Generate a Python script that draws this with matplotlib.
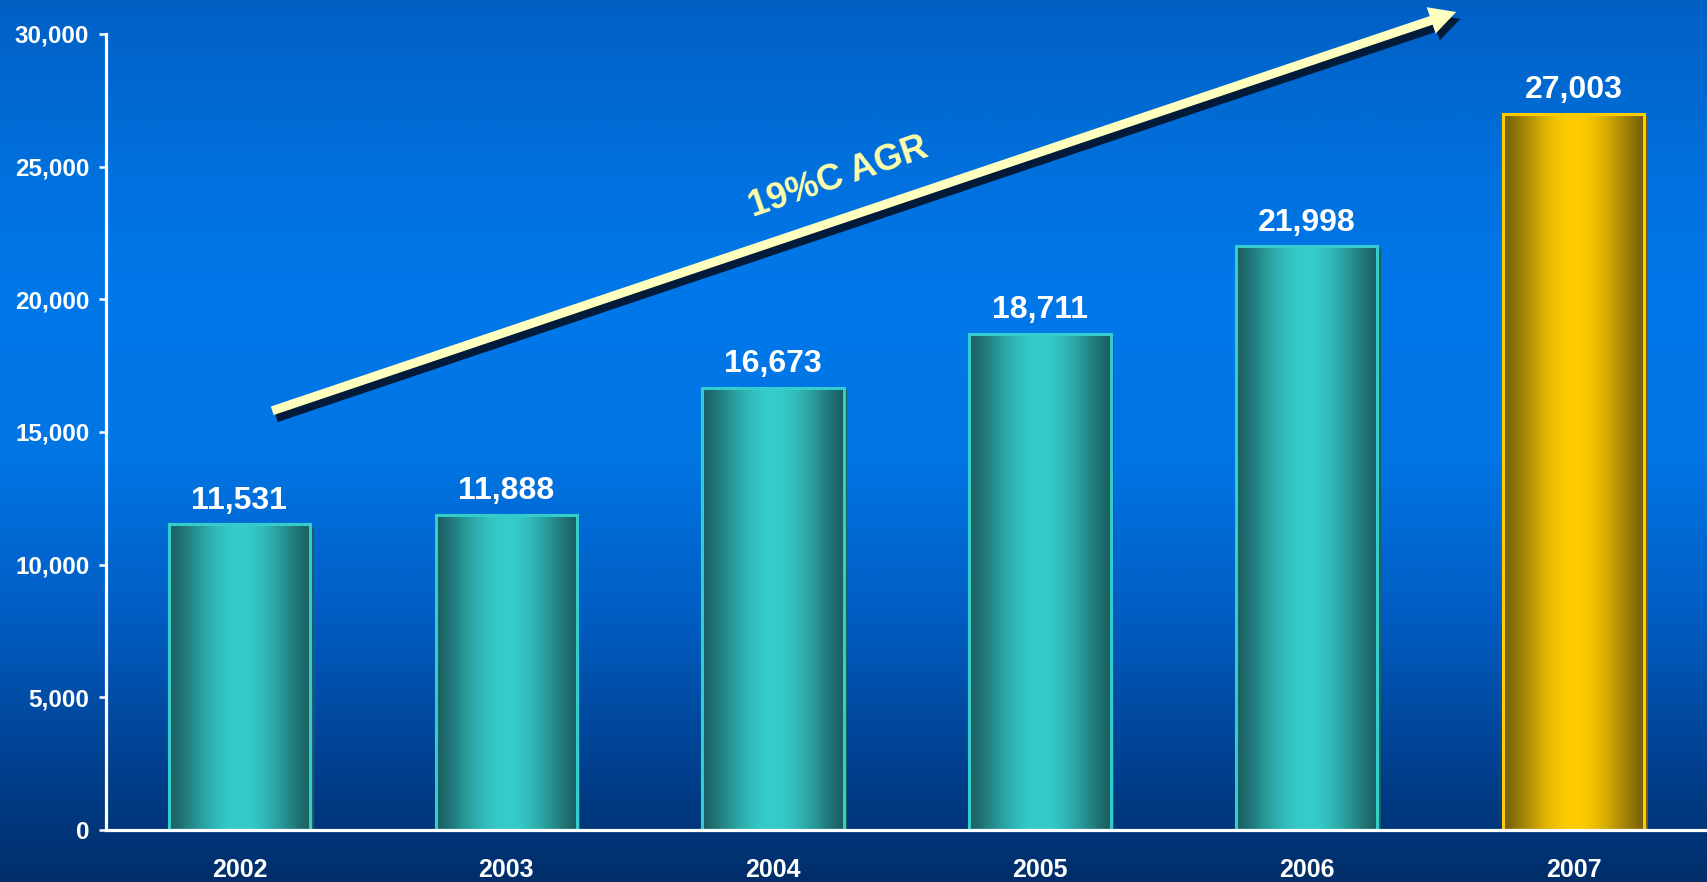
import numpy as np
import matplotlib
matplotlib.use("Agg")
import matplotlib.pyplot as plt
import matplotlib.patheffects as pe
from matplotlib.colors import LinearSegmentedColormap, to_rgb
from matplotlib.ticker import FuncFormatter, MultipleLocator

plt.rcParams['font.family'] = ['Liberation Sans', 'DejaVu Sans']

# ---- data -----------------------------------------------------------------
years = ["2002", "2003", "2004", "2005", "2006", "2007"]
values = [11531, 11888, 16673, 18711, 21998, 27003]
highlight = [False, False, False, False, False, True]
cagr_label = "19%C AGR"
trend_start = (0.123, 15800)   # (category position, value)
trend_end = (4.56, 30830)

# ---- styling --------------------------------------------------------------
W, H, DPI = 1707, 882, 100
teal_dark, teal_light, teal_edge = "#1b5f60", "#35cccb", "#35cccc"
gold_dark, gold_light, gold_edge = "#75600a", "#ffcc00", "#ffcc00"
text_white = "#ffffff"
cagr_color = "#ffffaa"
shadow_color = "#031b3b"

fig = plt.figure(figsize=(W / DPI, H / DPI), dpi=DPI)

# vertical background gradient over the whole figure
bg = fig.add_axes([0, 0, 1, 1], zorder=-10)
stops = [(0.00, "#0060c4"), (0.20, "#0071de"), (0.33, "#0078ea"),
         (0.52, "#0075e4"), (0.70, "#005dc2"), (0.86, "#004292"),
         (0.94, "#00367a"), (1.00, "#002e6a")]
bg_cmap = LinearSegmentedColormap.from_list("bg", stops)
bg.imshow(np.linspace(0, 1, 512).reshape(-1, 1), cmap=bg_cmap, aspect="auto",
          extent=[0, 1, 1, 0])
bg.set_axis_off()

ax = fig.add_axes([106 / W, 52 / H, 1 - 106 / W, (830 - 34) / H])
ax.set_facecolor("none")

x = np.arange(len(years))
bar_w = 0.53
dark = [gold_dark if h else teal_dark for h in highlight]
light = [gold_light if h else teal_light for h in highlight]
edge = [gold_edge if h else teal_edge for h in highlight]

# base bars carry the drop shadow
bars = ax.bar(x, values, width=bar_w, color=dark, linewidth=0, zorder=2)
for b, d in zip(bars, dark):
    b.set_path_effects([pe.SimplePatchShadow(offset=(2.5, -2.0),
                                             shadow_rgbFace=d, alpha=1.0),
                        pe.Normal()])

# cylindrical horizontal shading clipped to each bar
u = np.linspace(0, 1, 256)
prof = np.sin(np.pi * u) ** 1.3
for b, d, l in zip(bars, dark, light):
    cd, cl = np.array(to_rgb(d)), np.array(to_rgb(l))
    img = cd[None, :] + (cl - cd)[None, :] * prof[:, None]
    img = img[None, :, :]
    x0, w, h = b.get_x(), b.get_width(), b.get_height()
    im = ax.imshow(img, extent=[x0, x0 + w, 0, h], aspect="auto",
                   interpolation="bilinear", zorder=3)
    im.set_clip_path(b)

# outlines
ax.bar(x, values, width=bar_w, fill=False, edgecolor=edge, linewidth=2.2,
       zorder=4)

# value labels
for xi, v in zip(x, values):
    ax.annotate(f"{v:,}", xy=(xi, v), xytext=(0, 11), textcoords="offset points",
                ha="center", va="baseline", fontsize=23, fontweight="bold",
                color=text_white, zorder=6)

# growth arrow with shadow
arr = ax.annotate("", xy=trend_end, xytext=trend_start,
                  arrowprops=dict(arrowstyle="simple,head_length=1.9,head_width=2.0,tail_width=0.65",
                                  mutation_scale=10, fc="#ffffc0", ec="none",
                                  shrinkA=0, shrinkB=0),
                  annotation_clip=False, zorder=5)
arr.arrow_patch.set_path_effects([
    pe.SimplePatchShadow(offset=(3, -5), shadow_rgbFace=shadow_color, alpha=1.0),
    pe.Normal()])
arr.arrow_patch.set_clip_on(False)

ax.text(2.245, 24600, cagr_label, rotation=19, rotation_mode="anchor",
        ha="center", va="center", fontsize=26, fontweight="bold",
        color=cagr_color, zorder=6)

# axes
ax.set_xlim(-0.5, 5.5)
ax.set_ylim(0, 30000)
ax.yaxis.set_major_locator(MultipleLocator(5000))
ax.yaxis.set_major_formatter(FuncFormatter(lambda v, p: f"{int(v):,}"))
ax.set_xticks(x)
ax.set_xticklabels(years)
for s in ("top", "right"):
    ax.spines[s].set_visible(False)
for s in ("left", "bottom"):
    ax.spines[s].set_color("white")
    ax.spines[s].set_linewidth(2.3)
    ax.spines[s].set_zorder(7)
ax.tick_params(axis="y", colors="white", length=5, width=1.8, pad=7,
               labelsize=17.5)
ax.tick_params(axis="x", length=0, pad=20, labelsize=18, colors="white")
for lab in ax.get_xticklabels() + ax.get_yticklabels():
    lab.set_fontweight("bold")

fig.savefig("out.png", dpi=DPI)
